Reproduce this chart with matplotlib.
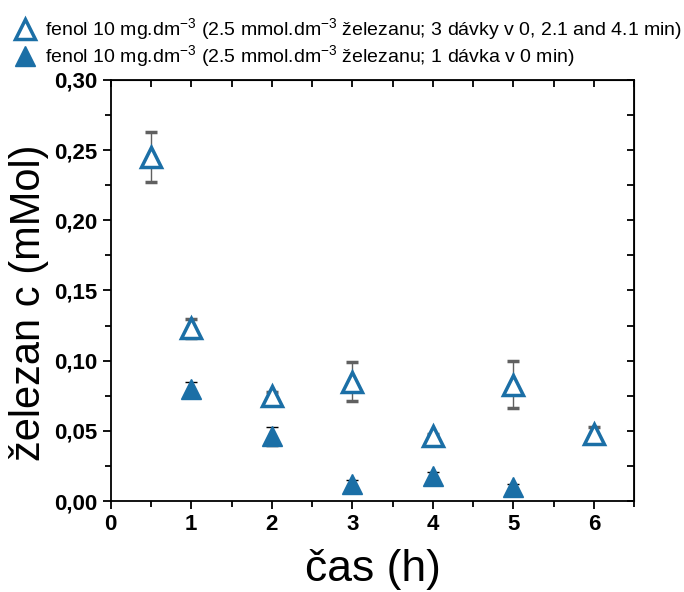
import matplotlib
matplotlib.use("Agg")
import matplotlib.pyplot as plt
from matplotlib.lines import Line2D
from matplotlib.ticker import MultipleLocator, FuncFormatter

plt.rcParams['font.family'] = ['Liberation Sans', 'DejaVu Sans']
plt.rcParams['mathtext.fontset'] = 'custom'
plt.rcParams['mathtext.rm'] = 'Liberation Sans'
plt.rcParams['mathtext.it'] = 'Liberation Sans:italic'

# --- data ---
x_open = [0.5, 1, 2, 3, 4, 5, 6]
y_open = [0.245, 0.123, 0.075, 0.085, 0.046, 0.083, 0.048]
e_open = [0.018, 0.007, 0.003, 0.014, 0.002, 0.017, 0.005]

x_fill = [1, 2, 3, 4, 5]
y_fill = [0.080, 0.046, 0.012, 0.018, 0.010]
e_fill = [0.005, 0.007, 0.003, 0.003, 0.002]

label_open = "fenol 10 mg.dm$^{-3}$ (2.5 mmol.dm$^{-3}$ železanu; 3 dávky v 0, 2.1 and 4.1 min)"
label_fill = "fenol 10 mg.dm$^{-3}$ (2.5 mmol.dm$^{-3}$ železanu; 1 dávka v 0 min)"

blue = "#1b6fa6"

fig = plt.figure(figsize=(6.84, 5.92), dpi=100)
ax = fig.add_axes([0.162, 0.1537, 0.765, 0.7112])

ax.errorbar(x_open, y_open, yerr=e_open, fmt='^', ms=14.5, mfc='white', mec=blue, mew=2.5,
            ecolor='#606060', elinewidth=1, capsize=4, capthick=1, zorder=3)
ax.errorbar(x_fill, y_fill, yerr=e_fill, fmt='^', ms=14.5, mfc=blue, mec=blue, mew=1,
            ecolor='black', elinewidth=1, capsize=4, capthick=1, zorder=3)

ax.set_xlim(0, 6.5)
ax.set_ylim(0, 0.30)
ax.xaxis.set_major_locator(MultipleLocator(1))
ax.xaxis.set_minor_locator(MultipleLocator(0.5))
ax.yaxis.set_major_locator(MultipleLocator(0.05))
ax.yaxis.set_minor_locator(MultipleLocator(0.025))
ax.yaxis.set_major_formatter(FuncFormatter(lambda v, p: f"{v:.2f}".replace('.', ',')))

for s in ax.spines.values():
    s.set_linewidth(1.3)
ax.tick_params(which='both', direction='out', width=1.3, labelsize=16)
ax.tick_params(which='major', length=6)
ax.tick_params(which='minor', length=4)
for lab in ax.get_xticklabels() + ax.get_yticklabels():
    lab.set_fontweight('bold')

# inward ticks on top and right
axt = ax.secondary_xaxis('top')
axt.set_xticks([0.5 * i for i in range(14)])
axt.tick_params(direction='in', length=5, width=1.3, labeltop=False)
axr = ax.secondary_yaxis('right')
axr.set_yticks([0.025 * i for i in range(13)])
axr.tick_params(direction='in', length=5, width=1.3, labelright=False)

ax.set_xlabel("čas (h)", fontsize=32, labelpad=10)
ax.set_ylabel("železan c (mMol)", fontsize=30)
ax.yaxis.set_label_coords(-0.118, 0.47)

hd1 = Line2D([], [], ls='none', marker='^', ms=14, mfc='white', mec=blue, mew=2.5)
hd2 = Line2D([], [], ls='none', marker='^', ms=14, mfc=blue, mec=blue)
fig.legend([hd1, hd2], [label_open, label_fill], loc='upper left', bbox_to_anchor=(0.0, 0.995),
           frameon=False, fontsize=14, handletextpad=0.4, labelspacing=0.05, borderaxespad=0.3,
           handlelength=1.2)

fig.savefig("out.png", dpi=100)
